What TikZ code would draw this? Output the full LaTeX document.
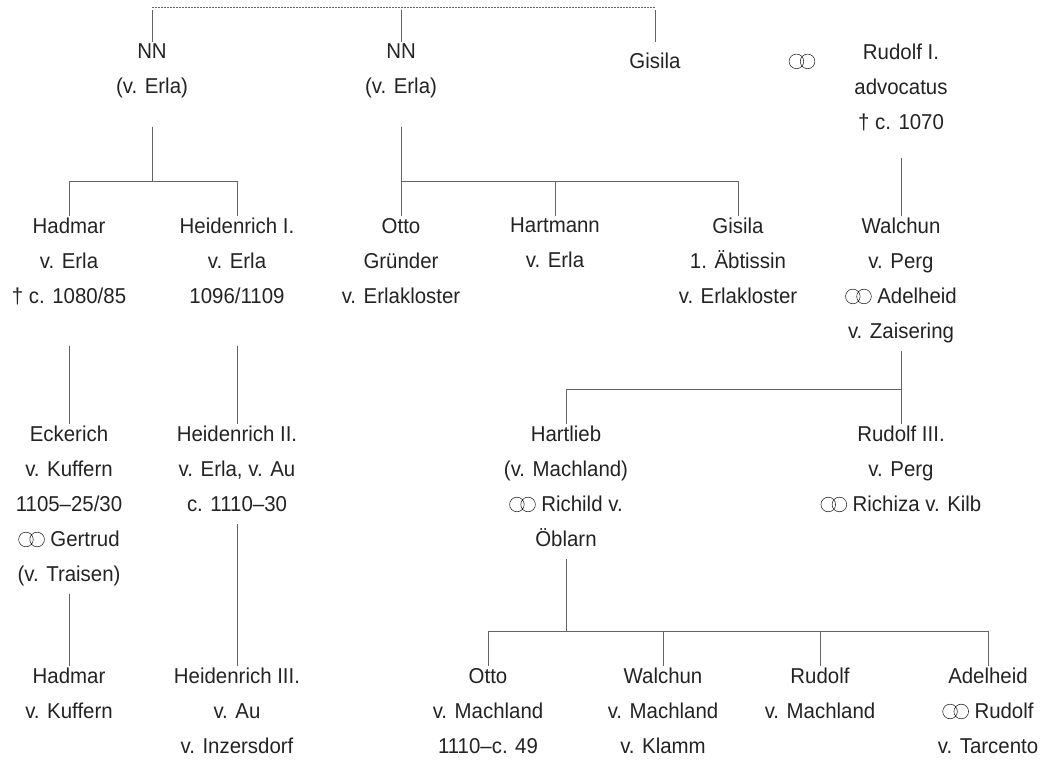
\documentclass[tikz,border=0pt]{standalone}
\usepackage{fontspec}
\setmainfont{Liberation Sans}[FakeStretch=0.95]
\usetikzlibrary{calc}
\definecolor{inkgray}{RGB}{35,35,35}
\definecolor{linegray}{RGB}{100,100,100}
\newcommand{\marr}{\tikz[x=1em,y=1em,baseline=0pt]{\draw[inkgray, line width=0.55pt] (0.34,0.34) circle[radius=0.34] (0.86,0.34) circle[radius=0.34];}}

\begin{document}
\begin{tikzpicture}[x=1pt, y=-1pt,
            person/.style={align=center, anchor=north, inner xsep=0pt, inner ysep=2pt, text=inkgray, font=\fontsize{21.5}{35}\selectfont, execute at begin node=\strut, execute at end node=\strut},
            kin/.style={draw=linegray, line width=1pt},
            dots/.style={kin, dash pattern=on 1.5pt off 1.5pt}
        ]
        \useasboundingbox (0,0) rectangle (1051,769);

        \node[person] (nnA) at (152,42) {NN\\(v. Erla)};
        \node[person] (nnB) at (401,42) {NN\\(v. Erla)};
        \node[person] (gisilaA) at (655,42) {Gisila};
        \node[person] (marrA) at (802,42) {\marr};
        \node[person] (rudolfA) at (901,42) {Rudolf I.\\advocatus\\† c. 1070};

        \node[person] (hadmarA) at (69,216) {Hadmar\\v. Erla\\† c. 1080/85};
        \node[person] (heidenA) at (237,216) {Heidenrich I.\\v. Erla\\1096/1109};
        \node[person] (ottoA) at (401,216) {Otto\\Gründer\\v. Erlakloster};
        \node[person] (hartmann) at (555,216) {Hartmann\\v. Erla};
        \node[person] (gisilaB) at (738,216) {Gisila\\1. Äbtissin\\v. Erlakloster};
        \node[person] (walchunA) at (901,216) {Walchun\\v. Perg\\\marr\ Adelheid\\v. Zaisering};

        \node[person] (eckerich) at (69,424) {Eckerich\\v. Kuffern\\1105–25/30\\\marr\ Gertrud\\(v. Traisen)};
        \node[person] (heidenB) at (237,424) {Heidenrich II.\\v. Erla, v. Au\\c. 1110–30};
        \node[person] (hartlieb) at (566,424) {Hartlieb\\(v. Machland)\\\marr\ Richild v.\\Öblarn};
        \node[person] (rudolfC) at (901,424) {Rudolf III.\\v. Perg\\\marr\ Richiza v. Kilb};

        \node[person] (hadmarB) at (69,666) {Hadmar\\v. Kuffern};
        \node[person] (heidenC) at (237,666) {Heidenrich III.\\v. Au\\v. Inzersdorf};
        \node[person] (ottoB) at (488,666) {Otto\\v. Machland\\1110–c. 49};
        \node[person] (walchunB) at (663,666) {Walchun\\v. Machland\\v. Klamm};
        \node[person] (rudolfD) at (820,666) {Rudolf\\v. Machland};
        \node[person] (adelheid) at (988,666) {Adelheid\\\marr\ Rudolf\\v. Tarcento};

        \coordinate (sibs) at (0,7);
        \coordinate (busB) at (0,181);
        \coordinate (busC) at (0,389);
        \coordinate (busD) at (0,631);

        % Geschwister
        \draw[dots] (nnA.north |- sibs) -- (gisilaA.north |- sibs);
        \foreach \n in {nnA,nnB,gisilaA}
            \draw[kin, shorten >=3pt] (\n.north) -- (\n.north |- sibs);

        \draw[kin] ([yshift=-20pt]nnA.south) -- (nnA.south |- busB);
        \draw[kin] (hadmarA.north) |- (heidenA.north |- busB) -- (heidenA.north);
        \draw[kin] ([yshift=-20pt]nnB.south) -- (ottoA.north);
        \draw[kin] (ottoA.north |- busB) -| (gisilaB.north);
        \draw[kin] (hartmann.north) -- (hartmann.north |- busB);
        \draw[kin] ([yshift=-16pt]rudolfA.south) -- (walchunA.north);

        \draw[kin] ([yshift=-30pt]hadmarA.south) -- (eckerich.north);
        \draw[kin] ([yshift=-30pt]heidenA.south) -- (heidenB.north);
        \draw[kin] (walchunA.south) -- (rudolfC.north);
        \draw[kin] (hartlieb.north) |- (walchunA.south |- busC);

        \draw[kin] (eckerich.south) -- (hadmarB.north);
        \draw[kin] (heidenB.south) -- (heidenC.north);
        \draw[kin] (hartlieb.south) -- (hartlieb.south |- busD);
        \draw[kin] (ottoB.north) |- (adelheid.north |- busD) -- (adelheid.north);
        \foreach \n in {walchunB,rudolfD}
            \draw[kin] (\n.north) -- (\n.north |- busD);
\end{tikzpicture}
\end{document}
